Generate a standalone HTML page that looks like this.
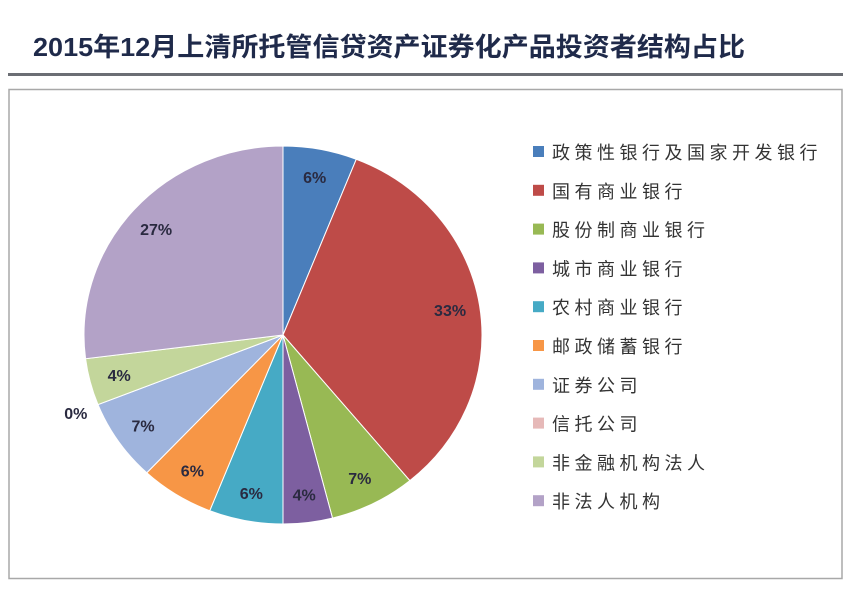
<!DOCTYPE html>
<html><head><meta charset="utf-8"><style>
body{margin:0;background:#fff;width:854px;height:584px;overflow:hidden;font-family:"Liberation Sans","Noto Sans CJK SC",sans-serif;}
</style></head><body>
<svg width="854" height="584" xmlns="http://www.w3.org/2000/svg">
<text x="33" y="56" font-size="26" font-weight="bold" fill="#1f2a4a" textLength="712" lengthAdjust="spacingAndGlyphs" font-family="Liberation Sans, Noto Sans CJK SC, sans-serif">2015年12月上清所托管信贷资产证券化产品投资者结构占比</text>
<rect x="8" y="73" width="835" height="3" fill="#6b6e74"/>
<rect x="9" y="89.5" width="833" height="489" fill="#fff" stroke="#a8a8a8" stroke-width="1.5"/>
<g id="pie"></g>
<g id="legend"></g>
</svg>
<script>
const categories=["政策性银行及国家开发银行","国有商业银行","股份制商业银行","城市商业银行","农村商业银行","邮政储蓄银行","证券公司","信托公司","非金融机构法人","非法人机构"];
const values=[6,33,7,4,6,6,7,0,4,27];
const labels=["6%","33%","7%","4%","6%","6%","7%","0%","4%","27%"];
const colors=["#4a7ebb","#be4b48","#98b954","#7d5fa0","#46aac5","#f79646","#9fb4dd","#e6b9b8","#c3d69b","#b3a2c7"];
const NS="http://www.w3.org/2000/svg";
const cx=283,cy=335,rx=199,ry=189;
const total=values.reduce((a,b)=>a+b,0);
const pie=document.getElementById('pie'),leg=document.getElementById('legend');
function pt(a,f){return [cx+rx*f*Math.sin(a),cy-ry*f*Math.cos(a)];}
let cum=0;
values.forEach((v,i)=>{
  const a0=cum/total*2*Math.PI; cum+=v; const a1=cum/total*2*Math.PI;
  if(v>0){
    const p0=pt(a0,1),p1=pt(a1,1);
    const large=(a1-a0)>Math.PI?1:0;
    const path=document.createElementNS(NS,'path');
    path.setAttribute('d',`M${cx},${cy}L${p0[0]},${p0[1]}A${rx},${ry} 0 ${large} 1 ${p1[0]},${p1[1]}Z`);
    path.setAttribute('fill',colors[i]);
    path.setAttribute('stroke','#fff');
    path.setAttribute('stroke-width','1');
    
    
    pie.appendChild(path);
  }
  const am=(a0+a1)/2;
  const lp=pt(am,v>0?0.85:1.12);
  const t=document.createElementNS(NS,'text');
  t.setAttribute('x',lp[0]);t.setAttribute('y',lp[1]+6);
  t.setAttribute('text-anchor','middle');
  t.setAttribute('font-size','16');t.setAttribute('font-weight','bold');
  t.setAttribute('fill','#2a2a40');
  
  
  t.textContent=labels[i];
  pie.appendChild(t);
  const y=152+i*38.8;
  const r=document.createElementNS(NS,'rect');
  r.setAttribute('x',533);r.setAttribute('y',y-6);r.setAttribute('width',11);r.setAttribute('height',11);
  r.setAttribute('fill',colors[i]);
  
  
  leg.appendChild(r);
  const lt=document.createElementNS(NS,'text');
  lt.setAttribute('x',552);lt.setAttribute('y',y+7);
  lt.setAttribute('font-size','18');lt.setAttribute('fill','#333');
  lt.setAttribute('letter-spacing','4.5');
  
  
  lt.textContent=categories[i];
  leg.appendChild(lt);
});
</script>
</body></html>
